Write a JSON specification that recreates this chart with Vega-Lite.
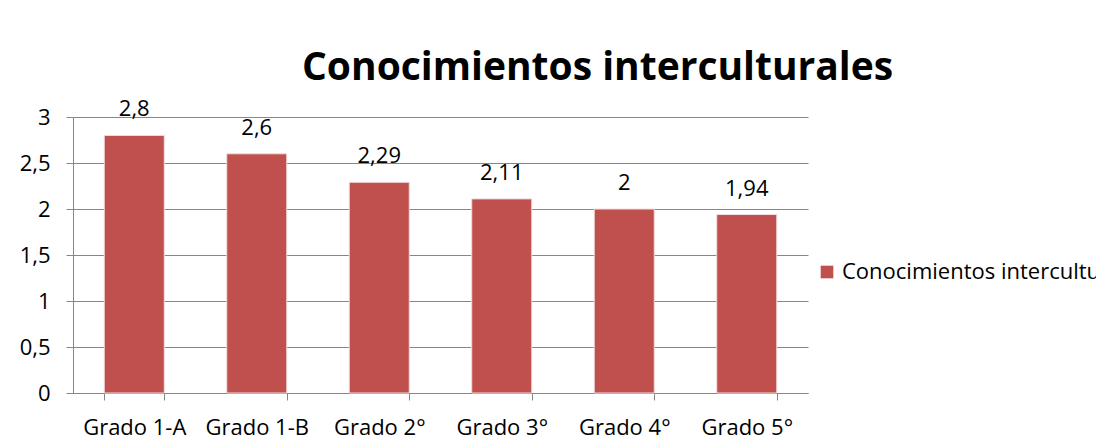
{
  "$schema": "https://vega.github.io/schema/vega-lite/v6.json",
  "autosize": {"type": "none"},
  "width": 735,
  "height": 276,
  "padding": {"left": 73, "top": 117, "right": 288, "bottom": 46},
  "background": "white",
  "config": {
    "font": "Open Sans",
    "locale": {"number": {"decimal": ",", "thousands": ".", "grouping": [3], "currency": ["", " €"]}},
    "view": {"stroke": null}
  },
  "title": {
    "text": "Conocimientos interculturales",
    "anchor": "start",
    "frame": "group",
    "dx": 229,
    "dy": 49,
    "fontSize": 39,
    "fontWeight": "bold",
    "font": "Open Sans",
    "color": "#000000",
    "baseline": "alphabetic",
    "offset": 28
  },
  "data": {
    "values": [
      {"grado": "Grado 1-A", "valor": 2.8, "serie": "Conocimientos interculturales"},
      {"grado": "Grado 1-B", "valor": 2.6, "serie": "Conocimientos interculturales"},
      {"grado": "Grado 2°", "valor": 2.29, "serie": "Conocimientos interculturales"},
      {"grado": "Grado 3°", "valor": 2.11, "serie": "Conocimientos interculturales"},
      {"grado": "Grado 4°", "valor": 2, "serie": "Conocimientos interculturales"},
      {"grado": "Grado 5°", "valor": 1.94, "serie": "Conocimientos interculturales"}
    ]
  },
  "encoding": {
    "x": {
      "field": "grado",
      "type": "nominal",
      "sort": null,
      "scale": {"paddingInner": 0.51, "paddingOuter": 0.255},
      "axis": {
        "title": null,
        "labelAngle": 0,
        "labelFontSize": 22,
        "labelColor": "#000000",
        "labelPadding": 17,
        "domainColor": "#868686",
        "tickColor": "#868686",
        "tickSize": 7,
        "tickBand": "extent",
        "grid": false
      }
    },
    "y": {
      "field": "valor",
      "type": "quantitative",
      "scale": {"domain": [0, 3], "nice": false},
      "axis": {
        "title": null,
        "values": [0, 0.5, 1, 1.5, 2, 2.5, 3],
        "format": "~g",
        "labelFontSize": 22,
        "labelColor": "#000000",
        "labelPadding": 16,
        "domainColor": "#868686",
        "tickColor": "#868686",
        "tickSize": 7,
        "gridColor": "#868686",
        "gridWidth": 1
      }
    }
  },
  "layer": [
    {
      "mark": {"type": "bar", "stroke": "#f2dcdb", "strokeWidth": 1},
      "encoding": {
        "color": {
          "field": "serie",
          "type": "nominal",
          "scale": {"range": ["#C0504D"]},
          "legend": {
            "title": null,
            "orient": "none",
            "legendX": 743,
            "legendY": 144,
            "symbolType": "square",
            "symbolSize": 160,
            "symbolStrokeWidth": 0,
            "labelFontSize": 22,
            "labelColor": "#000000",
            "labelLimit": 1000,
            "labelOffset": 4
          }
        }
      }
    },
    {
      "mark": {"type": "text", "baseline": "alphabetic", "dy": -19, "fontSize": 22, "color": "#000000"},
      "encoding": {
        "text": {"field": "valor", "type": "quantitative", "format": "~g"}
      }
    }
  ]
}
